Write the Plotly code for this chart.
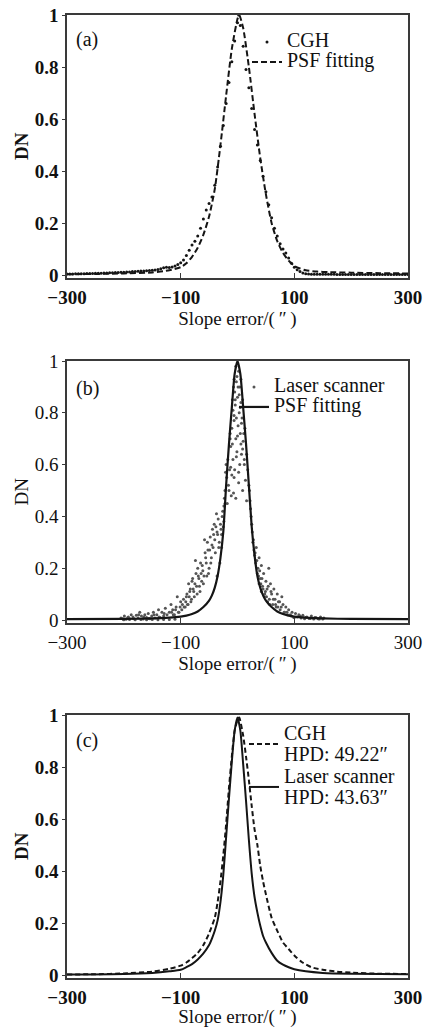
import plotly.graph_objects as go

# ---------------- data ----------------
x_tick_vals = [-300, -100, 100, 300]
y_tick_vals = [0, 0.2, 0.4, 0.6, 0.8, 1]
panel_labels = ["(a)", "(b)", "(c)"]
x_title = "Slope error/(\u2009\u2033\u2009)"
y_title = "DN"

# (a) CGH measured points
cgh_a_x = [-300, -295, -290, -285, -280, -275, -270, -265, -260, -255, -250, -245, -240, -235, -230,
           -225, -220, -215, -210, -205, -200, -195, -190, -185, -180, -175, -170, -165, -160, -155,
           -150, -145, -140, -135, -130, -125, -120, -115, -110, -105, -100, -95, -90, -85, -80,
           -75, -70, -65, -60, -55, -50, -45, -40, -35, -30, -25, -20, -15, -10, -5,
           0, 2, 5, 10, 15, 20, 25, 30, 35, 40, 45, 50, 55, 60, 65,
           70, 75, 80, 85, 90, 95, 100, 105, 110, 115, 120, 125, 130, 135, 140,
           145, 150, 155, 160, 165, 170, 175, 180, 185, 190, 195, 200, 205, 210, 215,
           220, 225, 230, 235, 240, 245, 250, 255, 260, 265, 270, 275, 280, 285, 290, 295, 300]
cgh_a_y = [0.004, 0.004, 0.004, 0.005, 0.005, 0.005, 0.005, 0.006, 0.006, 0.006, 0.007, 0.007, 0.007, 0.008, 0.008,
           0.009, 0.009, 0.010, 0.010, 0.011, 0.011, 0.012, 0.012, 0.013, 0.013, 0.014, 0.015, 0.015, 0.016, 0.017,
           0.018, 0.019, 0.021, 0.024, 0.028, 0.030, 0.029, 0.031, 0.035, 0.040, 0.047, 0.058, 0.075, 0.095, 0.115,
           0.130, 0.150, 0.180, 0.215, 0.250, 0.275, 0.300, 0.345, 0.415, 0.495, 0.575, 0.660, 0.740, 0.820, 0.900,
           0.970, 1.000, 0.960, 0.880, 0.790, 0.720, 0.640, 0.560, 0.500, 0.440, 0.380, 0.320, 0.270, 0.220, 0.180,
           0.150, 0.120, 0.100, 0.085, 0.065, 0.045, 0.030, 0.020, 0.013, 0.008, 0.005, 0.004, 0.003, 0.003, 0.003,
           0.003, 0.003, 0.003, 0.003, 0.003, 0.003, 0.002, 0.002, 0.002, 0.002, 0.002, 0.002, 0.002, 0.002, 0.002,
           0.002, 0.002, 0.002, 0.002, 0.002, 0.002, 0.002, 0.002, 0.002, 0.002, 0.002, 0.002, 0.002, 0.002, 0.002,
           0.002, 0.002]

# (a) PSF fitting (dashed)
psf_a_x = [-300, -250, -200, -150, -120, -100, -90, -80, -70, -60, -50, -40, -30, -20, -10,
           0, 3, 10, 20, 30, 40, 50, 60, 70, 80, 90, 100, 110, 120, 140, 160, 200, 250, 300]
psf_a_y = [0.003, 0.004, 0.006, 0.010, 0.018, 0.030, 0.045, 0.070, 0.105, 0.155, 0.225, 0.330, 0.500, 0.690, 0.870,
           0.985, 1.000, 0.950, 0.800, 0.620, 0.450, 0.310, 0.200, 0.130, 0.085, 0.055, 0.035, 0.025, 0.018, 0.013,
           0.011, 0.009, 0.007, 0.006]

# (b) Laser scanner measured points
laser_b_x = [-3, 2, -2, 4, -5, 0, 6, -4, -8, 3, 8, -6, 1, -10, 5, -3, 10, -12, -1, 7, -8, 12, -14, 2, -6,
             14, -16, 9, -11, 16, -18, 4, -2, 6, -7, 11, -13,
             -24, -22, -19, -17, -13, -9, -6, -28, -31, -36, 20, 22, 24, 18, 16, 13, 9, 26, 29, 32, 35, 38, 42, 47, 53,
             27, 30, 33, 36, 38, 40, 42, 44, 46, 48, 50, 52, 55, 56, 58, 60, 62, 64, 66, 68, 70, 72, 75, 78, 80,
             82, 85, 88, 90,
             93, 96, 99, 102, 105, 108, 112, 115, 118, 122, 126, 130, 134, 138, 142, 146, 150, 152,
             -20, -22, -24, -25, -27, -28, -30, -32, -34, -36, -38, -40, -41, -43, -44, -46, -48, -50, -52, -54,
             -56, -58, -60, -62, -64, -66, -68, -70, -72, -74, -76, -78, -80, -82, -84, -86, -88, -90, -92, -95,
             -98, -100, -103, -106, -108, -111, -114, -117, -120,
             -124, -127, -130, -133, -136, -139, -142, -145, -148, -151, -154, -157, -160, -163, -166, -169, -172,
             -175, -178, -181, -184, -187, -190, -193, -196, -199, -202, -205,
             -200, -190, -180, -170, -160, -150, -140, -130, -120, -110,
             -1, 1, -4, 3, -6, 5, -9, 7, -2, 0, -5, 2, -7, 9, -10, -3, 12, -15, 6, -12,
             -21, -23, -26, -29, -33, -35, -37, -39, -42, -45, -47, -49, -51, -53, -55, -57, -59, -61, -63, -65,
             -67, -69, -71, -73, -75, -77, -79, -81, -83, -85, -87, -89, -91, -94, -97, -101, -104, -109, -113, -116,
             21, 23, 25, 28, 31, 34, 37, 39, 41, 43, 45, 49, 51, 54, 57, 59, 63, 67, 71, 74, 77, 83, 87, 95, 100,
             -129, -138, -147, -156, -165, -174, -183, -192, -201, 110, 120, 128, 136, 144]
laser_b_y = [0.98, 0.96, 0.92, 0.90, 0.88, 0.86, 0.84, 0.83, 0.81, 0.80, 0.78, 0.77, 0.75, 0.74, 0.72, 0.70, 0.69,
             0.67, 0.65, 0.64, 0.62, 0.60, 0.58, 0.57, 0.55, 0.54, 0.52, 0.50, 0.48, 0.46, 0.45, 0.60, 0.78, 0.93,
             0.90, 0.72, 0.70,
             0.38, 0.45, 0.55, 0.62, 0.72, 0.85, 0.93, 0.28, 0.22, 0.17, 0.52, 0.46, 0.40, 0.58, 0.64, 0.74, 0.85,
             0.34, 0.27, 0.22, 0.18, 0.14, 0.11, 0.09, 0.07,
             0.30, 0.25, 0.28, 0.20, 0.24, 0.16, 0.21, 0.13, 0.18, 0.10, 0.15, 0.12, 0.20, 0.08, 0.14, 0.10, 0.06,
             0.12, 0.08, 0.05, 0.10, 0.07, 0.04, 0.09, 0.06, 0.03, 0.05, 0.02, 0.04,
             0.020, 0.030, 0.010, 0.025, 0.012, 0.020, 0.008, 0.018, 0.005, 0.012, 0.006, 0.015, 0.004, 0.010,
             0.005, 0.012, 0.004, 0.008,
             0.60, 0.50, 0.44, 0.36, 0.40, 0.33, 0.37, 0.30, 0.39, 0.34, 0.36, 0.31, 0.37, 0.28, 0.35, 0.24, 0.32,
             0.20, 0.27, 0.17, 0.24, 0.31, 0.14, 0.21, 0.18, 0.11, 0.16, 0.20, 0.13, 0.23, 0.09, 0.12, 0.15, 0.07,
             0.11, 0.14, 0.06, 0.09, 0.05, 0.08, 0.04, 0.07, 0.03, 0.09, 0.05, 0.02, 0.04, 0.06, 0.03,
             0.020, 0.045, 0.015, 0.030, 0.010, 0.040, 0.020, 0.008, 0.030, 0.015, 0.005, 0.025, 0.010, 0.020,
             0.004, 0.015, 0.030, 0.008, 0.018, 0.004, 0.012, 0.020, 0.006, 0.010, 0.003, 0.015, 0.005, 0.008,
             0.001, 0.002, 0.001, 0.002, 0.001, 0.002, 0.001, 0.002, 0.002, 0.003,
             0.94, 0.90, 0.85, 0.87, 0.79, 0.82, 0.68, 0.76, 0.63, 0.71, 0.58, 0.53, 0.49, 0.66, 0.56, 0.47, 0.62,
             0.50, 0.68, 0.59,
             0.57, 0.47, 0.42, 0.35, 0.28, 0.33, 0.41, 0.26, 0.33, 0.29, 0.22, 0.27, 0.18, 0.30, 0.22, 0.26, 0.17,
             0.19, 0.15, 0.22, 0.13, 0.17, 0.10, 0.18, 0.14, 0.11, 0.16, 0.08, 0.12, 0.09, 0.06, 0.10, 0.07, 0.05,
             0.06, 0.05, 0.03, 0.04, 0.02, 0.03,
             0.50, 0.43, 0.37, 0.31, 0.26, 0.23, 0.17, 0.19, 0.14, 0.16, 0.12, 0.11, 0.09, 0.13, 0.06, 0.11, 0.08,
             0.06, 0.05, 0.07, 0.05, 0.03, 0.03, 0.015, 0.01,
             0.025, 0.012, 0.02, 0.006, 0.012, 0.02, 0.006, 0.012, 0.003, 0.015, 0.01, 0.006, 0.01, 0.004]

# (b) PSF fitting (solid)
psf_b_x = [-300, -200, -150, -120, -100, -90, -80, -70, -60, -50, -45, -40, -35, -30, -25, -20, -15, -10, -5,
           0, 5, 10, 15, 20, 25, 30, 35, 40, 45, 50, 60, 70, 80, 90, 100, 120, 150, 200, 300]
psf_b_y = [0.003, 0.004, 0.006, 0.009, 0.013, 0.017, 0.023, 0.033, 0.050, 0.075, 0.095, 0.125, 0.170, 0.240,
           0.340, 0.520, 0.680, 0.820, 0.950, 1.000, 0.950, 0.820, 0.680, 0.520, 0.360, 0.250, 0.170, 0.125,
           0.095, 0.075, 0.050, 0.033, 0.023, 0.017, 0.013, 0.009, 0.006, 0.004, 0.003]

# (c) CGH fitted PSF (dashed)
cgh_c_x = [-300, -250, -200, -150, -120, -100, -90, -80, -70, -60, -50, -40, -35, -30, -25, -20, -15, -10, -5,
           0, 3, 10, 15, 20, 25, 30, 35, 40, 45, 50, 60, 70, 80, 90, 100, 113, 130, 150, 175, 200, 250, 300]
cgh_c_y = [0.002, 0.003, 0.006, 0.013, 0.024, 0.036, 0.048, 0.065, 0.085, 0.115, 0.160, 0.220, 0.280, 0.360,
           0.460, 0.580, 0.720, 0.840, 0.940, 0.980, 0.990, 0.920, 0.840, 0.750, 0.650, 0.560, 0.500, 0.420,
           0.360, 0.310, 0.220, 0.170, 0.125, 0.100, 0.075, 0.050, 0.030, 0.020, 0.013, 0.009, 0.005, 0.004]

# (c) Laser scanner fitted PSF (solid)
laser_c_x = [-300, -200, -150, -120, -100, -90, -80, -70, -60, -50, -45, -40, -35, -30, -25, -20, -15, -10, -5,
             0, 5, 10, 15, 20, 25, 30, 35, 40, 45, 50, 60, 70, 80, 90, 100, 120, 150, 200, 300]
laser_c_y = [0.002, 0.004, 0.008, 0.014, 0.020, 0.030, 0.042, 0.060, 0.083, 0.115, 0.140, 0.170, 0.210, 0.280,
             0.385, 0.530, 0.680, 0.820, 0.940, 0.990, 0.940, 0.810, 0.670, 0.520, 0.390, 0.300, 0.240, 0.190,
             0.150, 0.125, 0.085, 0.055, 0.040, 0.030, 0.022, 0.014, 0.008, 0.005, 0.003]

legend_names_a = ["CGH", "PSF fitting"]
legend_names_b = ["Laser scanner", "PSF fitting"]
legend_names_c = ["CGH<br>HPD: 49.22\u2033", "Laser scanner<br>HPD: 43.63\u2033"]

# ---------------- figure ----------------
W, H = 424, 1028
ML, MR = 67, 16
PW = W - ML - MR
INK = "#151515"
AXC = "#3a3a3a"
FONT = "Liberation Serif, Times New Roman, serif"


def big(s, px=20):
    lines = s.split("<br>")
    return "<br>".join('<span style="font-size:%dpx">%s</span>' % (px, ln) for ln in lines)


fig = go.Figure()

fig.add_trace(go.Scatter(x=cgh_a_x, y=cgh_a_y, mode="markers", name=big(legend_names_a[0]),
                         marker=dict(size=3, color=INK), xaxis="x", yaxis="y", legend="legend"))
fig.add_trace(go.Scatter(x=psf_a_x, y=psf_a_y, mode="lines", name=big(legend_names_a[1]),
                         line=dict(color=INK, width=2, dash="6px,3px", shape="spline", smoothing=0.6),
                         xaxis="x", yaxis="y", legend="legend2"))

fig.add_trace(go.Scatter(x=laser_b_x, y=laser_b_y, mode="markers", name=big(legend_names_b[0]),
                         marker=dict(size=3, color="#555555"), xaxis="x2", yaxis="y2", legend="legend3"))
fig.add_trace(go.Scatter(x=psf_b_x, y=psf_b_y, mode="lines", name=big(legend_names_b[1]),
                         line=dict(color=INK, width=2.2, shape="spline", smoothing=0.6),
                         xaxis="x2", yaxis="y2", legend="legend4"))

fig.add_trace(go.Scatter(x=cgh_c_x, y=cgh_c_y, mode="lines", name=big(legend_names_c[0]),
                         line=dict(color=INK, width=2, dash="5px,3px", shape="spline", smoothing=0.6),
                         xaxis="x3", yaxis="y3", legend="legend5"))
fig.add_trace(go.Scatter(x=laser_c_x, y=laser_c_y, mode="lines", name=big(legend_names_c[1]),
                         line=dict(color=INK, width=2, shape="spline", smoothing=0.6),
                         xaxis="x3", yaxis="y3", legend="legend6"))


def ydom(top_px, zero_px):
    per = zero_px - top_px
    bottom_px = zero_px + 0.01 * per
    return [1 - bottom_px / H, 1 - top_px / H]


domains = [ydom(15, 275), ydom(361, 620), ydom(715, 975)]
weights = ["bold", "normal", "bold"]

layout = dict(
    width=W, height=H, template="none",
    paper_bgcolor="white", plot_bgcolor="white",
    margin=dict(l=ML, r=MR, t=0, b=0),
    font=dict(family=FONT, size=16, color="#111"),
    showlegend=True,
)

for i in range(3):
    sx = "" if i == 0 else str(i + 1)
    tick_font = dict(family=FONT, size=19, color="#111", weight=weights[i])
    layout["xaxis" + sx] = dict(
        domain=[0, 1], anchor="y" + sx, range=[-300, 300],
        tickvals=x_tick_vals, ticks="inside", ticklen=5, tickwidth=1.2, tickcolor=AXC,
        showline=True, mirror=True, linecolor=AXC, linewidth=1.5,
        showgrid=False, zeroline=False, tickfont=tick_font, automargin=False,
        title=dict(text=x_title, font=dict(family=FONT, size=19, color="#111"), standoff=5),
        ticklabelstandoff=2,
    )
    layout["yaxis" + sx] = dict(
        domain=domains[i], anchor="x" + sx, range=[-0.01, 1.0],
        tickvals=y_tick_vals, ticks="outside", ticklen=3, tickwidth=1.2, tickcolor=AXC,
        showline=True, mirror=True, linecolor=AXC, linewidth=1.5,
        showgrid=False, zeroline=False, tickfont=tick_font, automargin=False,
        title=dict(text=y_title, font=dict(family=FONT, size=19, color="#111", weight=weights[i]), standoff=1),
    )

leg_common = dict(xanchor="left", yanchor="top", bgcolor="rgba(0,0,0,0)", borderwidth=0,
                  itemwidth=30, tracegroupgap=0, itemsizing="trace")
small = dict(family=FONT, size=13, color="#111")
mid = dict(family=FONT, size=16.5, color="#111")
# (legend key, left px of legend, top px of legend, font)
leg_pos = [("legend", 247, 27, small), ("legend2", 247, 47, small),
           ("legend3", 234, 372, small), ("legend4", 234, 392, small),
           ("legend5", 244, 716, mid), ("legend6", 244, 759, mid)]
for key, lx, ly, f in leg_pos:
    layout[key] = dict(x=(lx - ML) / PW, y=1 - ly / H, font=f, **leg_common)

label_y = [40, 388, 740]
layout["annotations"] = [
    dict(text=panel_labels[i], xref="paper", yref="paper", x=(74 - ML) / PW, y=1 - label_y[i] / H,
         xanchor="left", yanchor="middle", showarrow=False, font=dict(family=FONT, size=20, color="#111"))
    for i in range(3)
]

fig.update_layout(**layout)
fig.write_html("out.html", config={"displayModeBar": False},
               post_script="document.body.style.margin='0';")
